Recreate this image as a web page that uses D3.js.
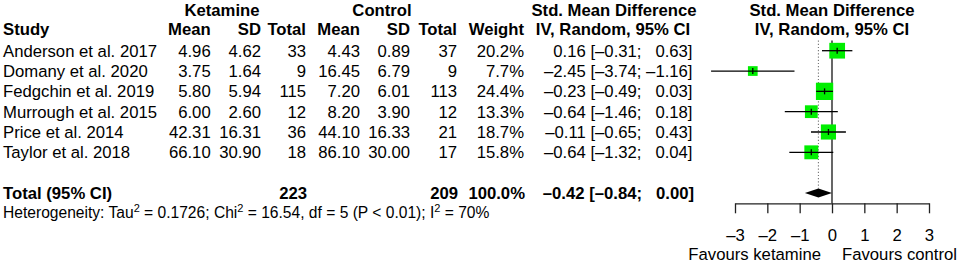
<!DOCTYPE html>
<html>
<head>
<meta charset="utf-8">
<script src="https://cdn.jsdelivr.net/npm/d3@7"></script>
<style>
body { margin: 0; background: #fff; }
text { font-family: "Liberation Sans", Arial, Helvetica, sans-serif; fill: #000; }
.hdr { font-weight: bold; }
</style>
</head>
<body>
<div id="chart"></div>
<script>
// study data
var studies = ["Anderson et al. 2017", "Domany et al. 2020", "Fedgchin et al. 2019",
               "Murrough et al. 2015", "Price et al. 2014", "Taylor et al. 2018"];
var ketMean = [4.96, 3.75, 5.80, 6.00, 42.31, 66.10];
var ketSD   = [4.62, 1.64, 5.94, 2.60, 16.31, 30.90];
var ketN    = [33, 9, 115, 12, 36, 18];
var ctlMean = [4.43, 16.45, 7.20, 8.20, 44.10, 86.10];
var ctlSD   = [0.89, 6.79, 6.01, 3.90, 16.33, 30.00];
var ctlN    = [37, 9, 113, 12, 21, 17];
var weights = [20.2, 7.7, 24.4, 13.3, 18.7, 15.8];
var smd     = [0.16, -2.45, -0.23, -0.64, -0.11, -0.64];
var lower   = [-0.31, -3.74, -0.49, -1.46, -0.65, -1.32];
var upper   = [0.63, -1.16, 0.03, 0.18, 0.43, 0.04];

// pooled result
var totalKet = 223;
var totalCtl = 209;
var totalWeight = 100.0;
var pooledEst = -0.42;
var pooledLo = -0.84;
var pooledHi = 0.00;

var xTicks = [-3, -2, -1, 0, 1, 2, 3];
var hetText = ["Heterogeneity: Tau", "2", " = 0.1726; Chi", "2", " = 16.54, df = 5 (P < 0.01); I", "2", " = 70%"];

function init() {
    var w = 957;
    var h = 264;
    var fs = 16.7;

    var svg = d3.select("#chart")
                .append("svg")
                .attr("width", w)
                .attr("height", h);

    // row positions (row 7 = total, row 8 = heterogeneity)
    var yScale = d3.scaleLinear().domain([0, 8]).range([50.7, 213.3]);
    var xScale = d3.scaleLinear().domain([-3, 3]).range([735, 929]);
    var boxScale = d3.scaleSqrt().domain([0, 25]).range([0, 17.5]);

    function fmt(v) {
        return (v < 0 ? "\u2013" : "") + Math.abs(v).toFixed(2);
    }
    function pad(v) {
        return v < 0 ? fmt(v) : "\u00a0\u00a0" + fmt(v);
    }
    function ciText(e, lo, hi) {
        return (e < 0 ? "" : "\u00a0") + fmt(e) + " [" + fmt(lo) + "; " + pad(hi) + "]";
    }

    // column right edges
    var cols = [210.7, 261, 306, 360, 410, 457, 524];
    var ciRight = 692.5;

    // headers
    svg.append("text").attr("class", "hdr").attr("x", 222).attr("y", 16)
        .attr("text-anchor", "middle").style("font-size", fs + "px").text("Ketamine");
    svg.append("text").attr("class", "hdr").attr("x", 382).attr("y", 16)
        .attr("text-anchor", "middle").style("font-size", fs + "px").text("Control");
    svg.append("text").attr("class", "hdr").attr("x", 614).attr("y", 16)
        .attr("text-anchor", "middle").style("font-size", fs + "px").text("Std. Mean Difference");
    svg.append("text").attr("class", "hdr").attr("x", 613).attr("y", 35)
        .attr("text-anchor", "middle").style("font-size", fs + "px").text("IV, Random, 95% CI");
    svg.append("text").attr("class", "hdr").attr("x", xScale(0)).attr("y", 16)
        .attr("text-anchor", "middle").style("font-size", fs + "px").text("Std. Mean Difference");
    svg.append("text").attr("class", "hdr").attr("x", xScale(0)).attr("y", 35)
        .attr("text-anchor", "middle").style("font-size", fs + "px").text("IV, Random, 95% CI");
    svg.append("text").attr("class", "hdr").attr("x", 3).attr("y", 35)
        .style("font-size", fs + "px").text("Study");
    var hdrs = ["Mean", "SD", "Total", "Mean", "SD", "Total", "Weight"];
    hdrs.forEach(function(t, i) {
        svg.append("text").attr("class", "hdr").attr("x", cols[i]).attr("y", 35)
            .attr("text-anchor", "end").style("font-size", fs + "px").text(t);
    });

    // study rows
    var rows = svg.selectAll("g.row")
        .data(studies)
        .enter().append("g")
        .attr("class", "row")
        .attr("transform", function(d, i) { return "translate(0," + (yScale(i) + 6) + ")"; });

    rows.append("text").attr("x", 3).style("font-size", fs + "px").text(function(d) { return d; });

    var colVals = [
        function(i) { return ketMean[i].toFixed(2); },
        function(i) { return ketSD[i].toFixed(2); },
        function(i) { return ketN[i]; },
        function(i) { return ctlMean[i].toFixed(2); },
        function(i) { return ctlSD[i].toFixed(2); },
        function(i) { return ctlN[i]; },
        function(i) { return weights[i].toFixed(1) + "%"; }
    ];
    colVals.forEach(function(f, c) {
        rows.append("text").attr("x", cols[c]).attr("text-anchor", "end")
            .style("font-size", fs + "px")
            .text(function(d, i) { return f(i); });
    });
    rows.append("text").attr("x", ciRight).attr("text-anchor", "end")
        .style("font-size", fs + "px")
        .text(function(d, i) { return ciText(smd[i], lower[i], upper[i]); });

    // total row
    var ty = yScale(7) + 6;
    svg.append("text").attr("class", "hdr").attr("x", 3).attr("y", ty)
        .style("font-size", fs + "px").text("Total (95% CI)");
    svg.append("text").attr("class", "hdr").attr("x", 307).attr("y", ty)
        .attr("text-anchor", "end").style("font-size", fs + "px").text(totalKet);
    svg.append("text").attr("class", "hdr").attr("x", 458).attr("y", ty)
        .attr("text-anchor", "end").style("font-size", fs + "px").text(totalCtl);
    svg.append("text").attr("class", "hdr").attr("x", 525).attr("y", ty)
        .attr("text-anchor", "end").style("font-size", fs + "px").text(totalWeight.toFixed(1) + "%");
    svg.append("text").attr("class", "hdr").attr("x", 694).attr("y", ty)
        .attr("text-anchor", "end").style("font-size", fs + "px")
        .text(ciText(pooledEst, pooledLo, pooledHi));

    // heterogeneity
    var het = svg.append("text").attr("x", 3).attr("y", 218.3).style("font-size", "15.6px");
    hetText.forEach(function(t, i) {
        var sup = (i % 2 === 1);
        het.append("tspan")
            .attr("dy", sup ? -6 : (i > 0 ? 6 : 0))
            .style("font-size", sup ? "11px" : null)
            .text(t);
    });

    // reference lines
    var topY = 40.5;
    var axisY = 203.3;
    var dH = 4.5;
    svg.append("line")
        .attr("x1", xScale(0)).attr("x2", xScale(0))
        .attr("y1", topY).attr("y2", axisY)
        .attr("stroke", "#000").attr("stroke-width", 1.2);
    svg.append("line")
        .attr("x1", xScale(pooledEst)).attr("x2", xScale(pooledEst))
        .attr("y1", topY).attr("y2", yScale(7) - dH)
        .attr("stroke", "#777").attr("stroke-width", 1.1)
        .attr("stroke-dasharray", "1.2,2");

    // squares
    var marks = svg.selectAll("g.mark")
        .data(studies)
        .enter().append("g")
        .attr("class", "mark");
    marks.append("rect")
        .attr("x", function(d, i) { return xScale(smd[i]) - boxScale(weights[i]) / 2; })
        .attr("y", function(d, i) { return yScale(i) - boxScale(weights[i]) / 2; })
        .attr("width", function(d, i) { return boxScale(weights[i]); })
        .attr("height", function(d, i) { return boxScale(weights[i]); })
        .attr("fill", "#00ee00");
    marks.append("line")
        .attr("x1", function(d, i) { return xScale(lower[i]); })
        .attr("x2", function(d, i) { return xScale(upper[i]); })
        .attr("y1", function(d, i) { return yScale(i); })
        .attr("y2", function(d, i) { return yScale(i); })
        .attr("stroke", "#000").attr("stroke-width", 1.3);
    marks.append("line")
        .attr("x1", function(d, i) { return xScale(smd[i]); })
        .attr("x2", function(d, i) { return xScale(smd[i]); })
        .attr("y1", function(d, i) { return yScale(i) - 3; })
        .attr("y2", function(d, i) { return yScale(i) + 3; })
        .attr("stroke", "#000").attr("stroke-width", 1.3);

    // diamond
    var dy = yScale(7);
    svg.append("path")
        .attr("d", d3.line()([
            [xScale(pooledLo), dy], [xScale(pooledEst), dy - dH],
            [xScale(pooledHi), dy], [xScale(pooledEst), dy + dH]
        ]) + "Z")
        .attr("fill", "#000");

    // axis
    var xAxis = d3.axisBottom(xScale)
        .tickValues(xTicks)
        .tickSize(10)
        .tickSizeOuter(0)
        .tickFormat(function(d) { return d < 0 ? "\u2013" + Math.abs(d) : d; });
    var ax = svg.append("g")
        .attr("transform", "translate(0," + axisY + ")")
        .call(xAxis);
    ax.select(".domain").attr("stroke", "#222").attr("stroke-width", 1.3);
    ax.selectAll(".tick line").attr("stroke", "#222").attr("stroke-width", 1.3);
    ax.selectAll(".tick text")
        .attr("y", 37.7).attr("dy", null)
        .attr("fill", "#000")
        .style("font-size", fs + "px")
        .style("font-family", "'Liberation Sans', Arial, sans-serif");

    svg.append("text").attr("x", xScale(0) - 11).attr("y", 259.5)
        .attr("text-anchor", "end").style("font-size", fs + "px").text("Favours ketamine");
    svg.append("text").attr("x", xScale(0) + 10).attr("y", 259.5)
        .style("font-size", fs + "px").text("Favours control");
}
window.onload = init;
</script>
</body>
</html>
